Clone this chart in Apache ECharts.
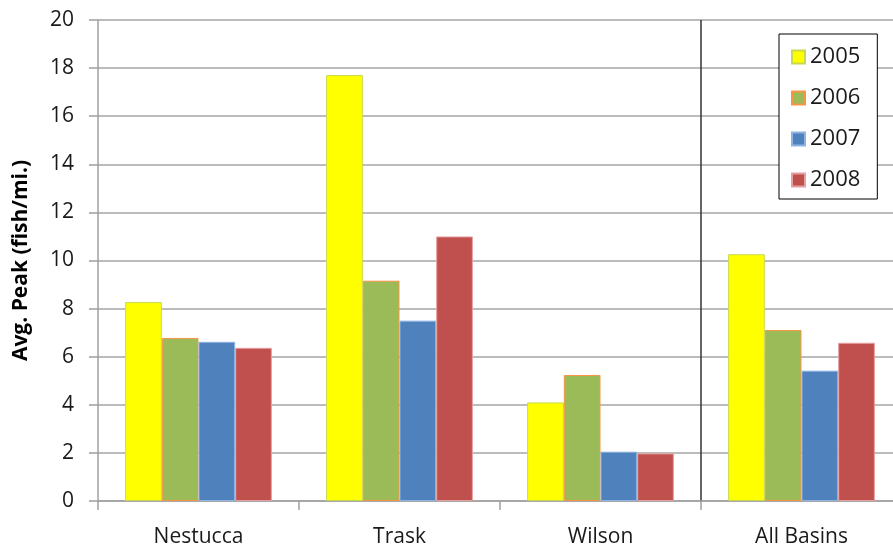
<!DOCTYPE html>
<html>
<head>
<meta charset="utf-8">
<script src="https://cdn.jsdelivr.net/npm/echarts@6/dist/echarts.min.js"></script>
<style>
	html, body { margin: 0; padding: 0; background: #fff; }
	#chart { width: 893px; height: 548px; }
</style>
</head>
<body>
<div id="chart"></div>
<script>
	var basins = ['Nestucca', 'Trask', 'Wilson', 'All Basins'];
	var years = ['2005', '2006', '2007', '2008'];
	var peak2005 = [8.27, 17.71, 4.10, 10.26];
	var peak2006 = [6.78, 9.16, 5.24, 7.11];
	var peak2007 = [6.62, 7.50, 2.05, 5.42];
	var peak2008 = [6.37, 11.00, 1.98, 6.58];
	var yTicks = [0, 2, 4, 6, 8, 10, 12, 14, 16, 18, 20];

	var fillColors = ['#ffff00', '#9bbb59', '#4f81bd', '#c0504d'];
	var edgeColors = ['#c8d850', '#f79646', '#8eb4e3', '#e6a0a0'];
	var fontName = '"Open Sans", "Noto Sans", sans-serif';

	function makeBar(name, data, i) {
		return {
			name: name,
			type: 'bar',
			data: data,
			barGap: '0%',
			barCategoryGap: '27%',
			itemStyle: {
				color: fillColors[i],
				borderColor: edgeColors[i],
				borderWidth: 1
			}
		};
	}

	var option = {
		backgroundColor: '#fff',
		animation: false,
		textStyle: { fontFamily: fontName },
		// plot runs past the right edge: the last category is cut off like in the source
		grid: { left: 98, width: 804, top: 20, bottom: 47, outerBoundsMode: 'none' },
		legend: {
			data: years,
			icon: 'rect',
			orient: 'vertical',
			left: 779,
			top: 34,
			padding: [12, 17, 8, 12],
			itemGap: 19,
			itemWidth: 13,
			itemHeight: 13,
			backgroundColor: '#fff',
			borderColor: '#000',
			borderWidth: 1,
			textStyle: { fontSize: 22, color: '#1a1a1a', fontFamily: fontName }
		},
		xAxis: {
			type: 'category',
			data: basins,
			axisLine: { lineStyle: { color: '#a0a0a0', width: 1.5 } },
			axisTick: { show: true, length: 9, interval: 0, lineStyle: { color: '#a0a0a0', width: 1.5 } },
			axisLabel: { fontSize: 21, color: '#1a1a1a', margin: 26 },
			splitLine: {
				show: true,
				interval: 0,
				lineStyle: { color: ['rgba(0,0,0,0)', 'rgba(0,0,0,0)', 'rgba(0,0,0,0)', '#333333', 'rgba(0,0,0,0)'], width: 1.5 }
			}
		},
		yAxis: {
			type: 'value',
			min: yTicks[0],
			max: yTicks[yTicks.length - 1],
			interval: 2,
			name: 'Avg. Peak (fish/mi.)',
			nameLocation: 'middle',
			nameGap: 66,
			nameTextStyle: { fontSize: 21, fontWeight: 'bold', color: '#000' },
			axisLine: { show: true, lineStyle: { color: '#a0a0a0', width: 1.5 } },
			axisTick: { show: true, length: 9, lineStyle: { color: '#a0a0a0', width: 1.5 } },
			axisLabel: { fontSize: 21, color: '#1a1a1a', margin: 24 },
			splitLine: { lineStyle: { color: '#a6a6a6', width: 1.5 } }
		},
		series: [
			makeBar(years[0], peak2005, 0),
			makeBar(years[1], peak2006, 1),
			makeBar(years[2], peak2007, 2),
			makeBar(years[3], peak2008, 3)
		]
	};

	var chart = echarts.init(document.getElementById('chart'));
	chart.setOption(option);
</script>
</body>
</html>
